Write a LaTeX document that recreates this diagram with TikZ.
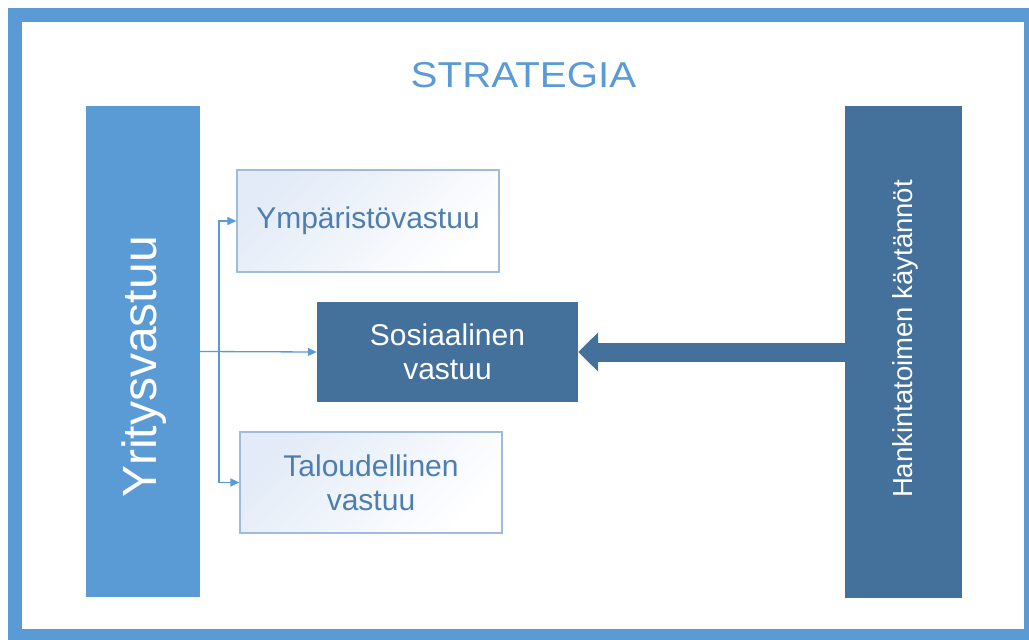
\documentclass[tikz,border=0pt]{standalone}
\usepackage{fontspec}
\setmainfont{Liberation Sans}
\usetikzlibrary{arrows.meta}
\definecolor{lblue}{RGB}{91,155,213}
\definecolor{dblue}{RGB}{67,113,156}
\definecolor{tblue}{RGB}{78,126,176}
\definecolor{bord}{RGB}{160,188,220}
\definecolor{shadeA}{RGB}{226,235,247}
\begin{document}
\begin{tikzpicture}[x=1pt,y=-1pt,
  bar/.style={rectangle, inner sep=0pt, minimum width=#1},
  lightbox/.style={rectangle, draw=bord, line width=1.2pt,
     top color=shadeA, bottom color=white, shading angle=45,
     inner sep=0pt, minimum width=262pt, text=tblue, align=center,
     font=\fontsize{30}{34}\selectfont},
  darkbox/.style={rectangle, fill=dblue, draw=none, inner sep=0pt, text=white, align=center,
     font=\fontsize{30}{34}\selectfont},
  thin arrow/.style={draw=lblue, line width=1.3pt, -{Triangle[length=9pt,width=8pt]}},
  big arrow/.style={draw=dblue, line width=19pt, -{Triangle[length=20pt,width=38pt]}}
]
\useasboundingbox (0,0) rectangle (1029,640);
\fill[white] (0,0) rectangle (1029,640);
\begin{scope}
\clip (0,0) rectangle (1029,640);
\draw[lblue, line width=13.5pt] (15,14.75) rectangle (1030.75,635.75);
\end{scope}

\node[anchor=base, text=lblue, font=\fontsize{36}{40}\selectfont] (title) at (523.5,87)
  {\scalebox{1.12}[1]{STRATEGIA}};

\node[bar=114pt, minimum height=491pt, fill=lblue] (yri) at (143,351.5) {};
\node[anchor=base, rotate=90, text=white, font=\fontsize{48}{52}\selectfont] (yrilabel) at (156,367) {Yritysvastuu};

\node[bar=117pt, minimum height=492pt, fill=dblue] (hank) at (903.5,352) {};
\node[anchor=base, rotate=90, text=white, font=\fontsize{27.5}{30}\selectfont] (hanklabel) at (912,339) {Hankintatoimen käytännöt};

\node[lightbox, minimum height=102pt] (ymp) at (368,221) {Ympäristövastuu};
\node[darkbox, minimum width=261pt, minimum height=100pt] (sos) at (447.5,352) {Sosiaalinen\\vastuu};
\node[lightbox, minimum height=101pt] (tal) at (371,482.5) {Taloudellinen\\vastuu};

\coordinate (j) at (219,352);
\draw[thin arrow] (yri.east) -- (sos.west);
\draw[thin arrow] (j) |- (ymp.west);
\draw[thin arrow] (j) |- (tal.west);
\draw[big arrow] (hank.west) -- (sos.east);
\end{tikzpicture}
\end{document}
